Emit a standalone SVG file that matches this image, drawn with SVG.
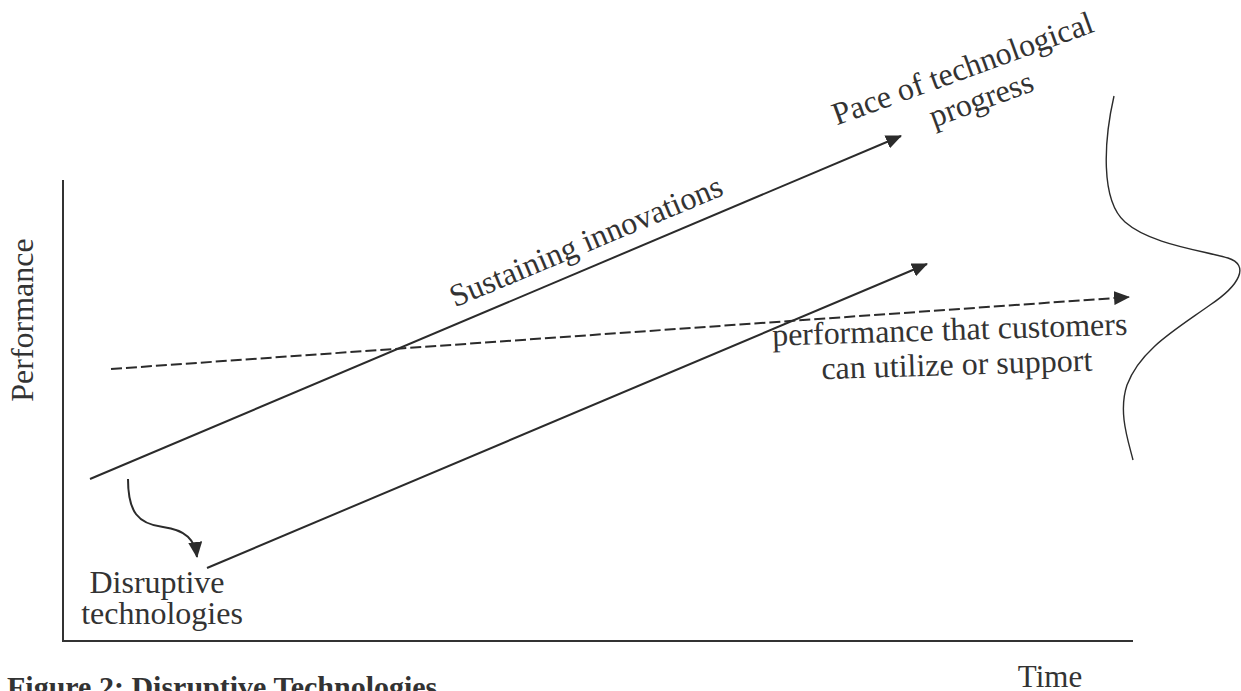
<svg xmlns="http://www.w3.org/2000/svg" width="1241" height="691" viewBox="0 0 1241 691">
  <style>
    .lbl { font-family: "Liberation Serif", "Times New Roman", serif; font-size: 32px; fill: #333; }
    .cap { font-family: "Liberation Serif", "Times New Roman", serif; font-size: 30px; font-weight: bold; fill: #333; }
    .ax { stroke: #333; stroke-width: 2; fill: none; }
    .ln { stroke: #2b2b2b; stroke-width: 2; fill: none; }
    .dash { stroke: #2b2b2b; stroke-width: 2; fill: none; stroke-dasharray: 11 4; }
    .thin { stroke: #2b2b2b; stroke-width: 1.4; fill: none; }
  </style>
  <defs>
    <marker id="arrow" markerUnits="userSpaceOnUse" markerWidth="16" markerHeight="14" refX="15" refY="7" orient="auto">
      <path d="M0,0 L16,7 L0,14 Z" fill="#2b2b2b"/>
    </marker>
  </defs>
  <rect width="1241" height="691" fill="#fff"/>

  <!-- axes -->
  <g id="axes">
    <polyline class="ax" points="63,180 63,641 1133,641"/>
    <text class="lbl" transform="translate(33,320) rotate(-90)" text-anchor="middle">Performance</text>
    <text class="lbl" x="1050" y="687" text-anchor="middle" style="font-size:31px">Time</text>
  </g>

  <!-- connectors -->
  <g id="connectors">
    <line id="sustaining-line" class="ln" x1="90" y1="479" x2="901" y2="136" marker-end="url(#arrow)"/>
    <line id="disruptive-line" class="ln" x1="207" y1="568" x2="927" y2="264" marker-end="url(#arrow)"/>
    <line id="customer-line" class="dash" x1="111" y1="369" x2="1129" y2="297" marker-end="url(#arrow)"/>
    <path id="shift-arrow" class="ln" d="M128,479 C128,512 138,524 163,527 C186,530 195,540 197,557" marker-end="url(#arrow)"/>
  </g>

  <!-- labels -->
  <g id="sustaining">
    <text class="lbl" transform="translate(590,251) rotate(-22.7)" text-anchor="middle">Sustaining innovations</text>
  </g>
  <g id="pace">
    <text class="lbl" transform="translate(970,77) rotate(-20)" text-anchor="middle">
      <tspan x="0" y="0">Pace of technological</tspan>
      <tspan x="3" y="35">progress</tspan>
    </text>
  </g>
  <g id="customers">
    <text class="lbl" transform="translate(954,340) rotate(-1.8)" text-anchor="middle">
      <tspan x="0" y="0">performance that customers</tspan>
      <tspan x="2" y="35">can utilize or support</tspan>
    </text>
  </g>
  <g id="disruptive">
    <text class="lbl" text-anchor="middle">
      <tspan x="161" y="593">Disruptive</tspan>
      <tspan x="162" y="624">technologies</tspan>
    </text>
  </g>

  <!-- distribution curve of customer needs -->
  <g id="demand-curve">
    <path class="thin" d="M1114,96 C1104,140 1100,200 1125,222 C1150,244 1200,250 1228,258 C1250,265 1240,285 1210,305 C1175,330 1140,350 1127,385 C1118,412 1128,440 1133,460"/>
  </g>

  <g id="caption">
    <text class="cap" x="7" y="697">Figure 2: Disruptive Technologies</text>
  </g>
</svg>
